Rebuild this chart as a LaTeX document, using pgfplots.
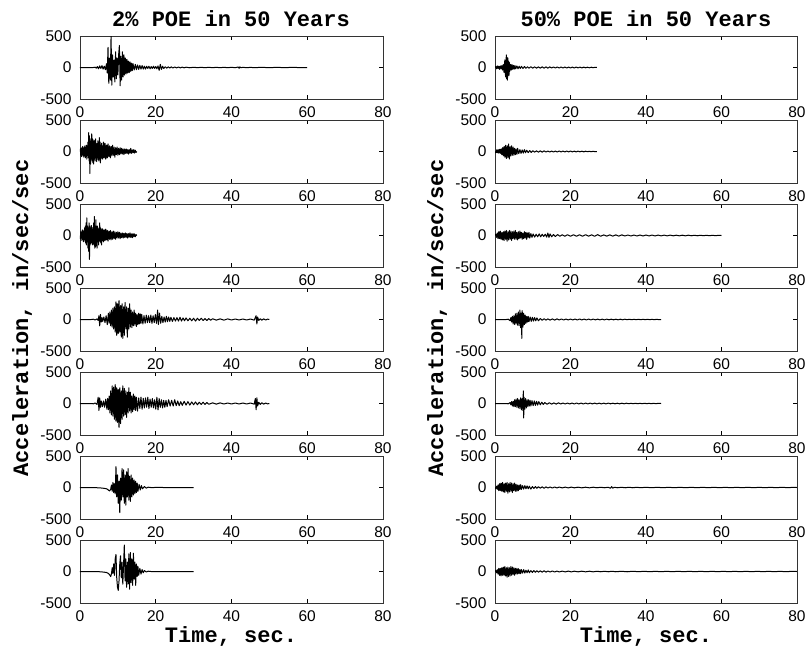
\documentclass[border=0pt]{standalone}
\usepackage{fontspec}
\setmainfont{Liberation Sans}
\newfontfamily\cour{Liberation Mono}
\usepackage{pgfplots}
\pgfplotsset{compat=1.18}
\pgfplotsset{seis/.style={
  scale only axis, width=303pt, height=63pt, anchor=north west,
  xmin=0, xmax=80, ymin=-500, ymax=500,
  xtick={0,20,40,60,80}, xticklabels={0,20,40,60,80},
  ytick={-500,0,500}, yticklabels={-500,0,500},
  tick align=inside, major tick length=4pt,
  xtick pos=both, ytick pos=both, xticklabel pos=lower, yticklabel pos=left,
  ticklabel style={font=\fontsize{15.5}{15.5}\selectfont},
  xticklabel style={yshift=-4pt},
  yticklabel style={xshift=-5pt},
  axis line style={black!80, line width=0.7pt},
  every tick/.style={black, line width=0.5pt},
  cycle list={{black, mark=none}},
  every axis plot post/.style={black, line width=1.0pt, line join=round, mark=none},
  clip=true
}}
\begin{document}
\begin{tikzpicture}[x=1pt,y=1pt]
\useasboundingbox (0,0) rectangle (807,-649);
% titles and labels
\node[font=\cour\bfseries\fontsize{22}{22}\selectfont] at (231,-19) {2\% POE in 50 Years};
\node[font=\cour\bfseries\fontsize{22}{22}\selectfont] at (646,-19) {50\% POE in 50 Years};
\node[font=\cour\bfseries\fontsize{22}{22}\selectfont, rotate=90] at (22,-318) {Acceleration, in/sec/sec};
\node[font=\cour\bfseries\fontsize{22}{22}\selectfont, rotate=90] at (437,-318) {Acceleration, in/sec/sec};
\node[font=\cour\bfseries\fontsize{22}{22}\selectfont] at (231,-636) {Time, sec.};
\node[font=\cour\bfseries\fontsize{22}{22}\selectfont] at (646,-636) {Time, sec.};

% ---------------- LEFT COLUMN: 2% POE ----------------
\begin{axis}[seis, at={(80pt,-36pt)}]
\addplot coordinates {(0,0)(3.5,0)(4,5)(4.3,-10)(4.6,15)(4.9,-20)(5.2,25)(5.5,-15)(5.8,30)(6.1,-25)(6.4,20)(6.7,-35)(7.0,60)(7.2,-90)(7.4,320)(7.6,-250)(7.8,150)(8.0,-200)(8.2,500)(8.4,-280)(8.6,200)(8.8,-150)(9.0,120)(9.2,-230)(9.4,250)(9.6,-180)(9.8,150)(10.0,-120)(10.2,200)(10.4,350)(10.6,-290)(10.8,180)(11.0,-200)(11.2,250)(11.4,-150)(11.6,200)(11.8,-120)(12.0,150)(12.2,-100)(12.4,130)(12.6,-90)(12.8,100)(13.0,-80)(13.2,90)(13.4,-60)(13.6,70)(13.8,-50)(14.0,60)(14.3,-40)(14.6,50)(14.9,-35)(15.2,40)(15.5,-30)(15.8,35)(16.1,-25)(16.4,30)(16.7,-25)(17.0,20)(17.3,-25)(17.6,20)(17.9,-15)(18.2,20)(18.5,-20)(18.8,15)(19.1,-15)(19.4,20)(19.7,-15)(20.0,15)(20.3,-20)(20.6,25)(20.9,-45)(21.2,50)(21.5,-30)(21.8,20)(22.1,-15)(22.5,12)(22.9,-10)(23.3,10)(23.7,-8)(24.1,10)(24.5,-8)(25,8)(25.5,-6)(26,7)(26.5,-6)(27,6)(27.5,-5)(28,5)(29,-4)(30,4)(31,-3)(32,3)(33,-3)(34,3)(35,-3)(36,3)(37,-3)(38,3)(39,-3)(40,3)(41,-3)(41.8,8)(42,-12)(42.2,10)(42.5,-4)(43,3)(44,-3)(45,2)(46,-2)(48,2)(50,-2)(52,2)(54,-2)(56,2)(58,-1)(60,0)};
\end{axis}

\begin{axis}[seis, at={(80pt,-120pt)}]
\addplot coordinates {(0,0)(0.1,40)(0.2,-60)(0.3,50)(0.4,-80)(0.5,60)(0.6,-40)(0.7,80)(0.8,-70)(0.9,50)(1.0,-90)(1.1,70)(1.2,-50)(1.3,90)(1.4,-100)(1.5,60)(1.6,-80)(1.7,100)(1.8,-120)(1.9,90)(2.0,-60)(2.1,150)(2.2,-100)(2.3,300)(2.4,-150)(2.5,250)(2.6,-350)(2.7,200)(2.8,-200)(2.9,150)(3.0,-120)(3.1,280)(3.2,-150)(3.3,200)(3.4,-180)(3.5,150)(3.6,-200)(3.7,180)(3.8,-120)(3.9,150)(4.0,-150)(4.1,200)(4.2,-100)(4.3,130)(4.4,-160)(4.5,120)(4.6,-100)(4.7,170)(4.8,-130)(4.9,100)(5.0,-150)(5.1,220)(5.2,-120)(5.3,150)(5.4,-180)(5.5,100)(5.6,-90)(5.7,130)(5.8,-110)(5.9,90)(6.0,-120)(6.2,150)(6.4,-100)(6.6,130)(6.8,-120)(7.0,100)(7.2,-100)(7.4,120)(7.6,-80)(7.8,90)(8.0,-100)(8.2,80)(8.4,-70)(8.6,100)(8.8,-60)(9.0,70)(9.2,-90)(9.4,60)(9.6,-50)(9.8,70)(10.0,-60)(10.2,50)(10.4,-50)(10.6,60)(10.8,-40)(11.0,50)(11.2,-40)(11.4,40)(11.6,-50)(11.8,40)(12.0,-30)(12.2,40)(12.4,-30)(12.6,30)(12.8,-40)(13.0,30)(13.2,-25)(13.4,50)(13.6,-30)(13.8,25)(14.0,-20)(14.2,30)(14.4,-25)(14.6,20)(14.8,-15)(15.0,0)};
\end{axis}

\begin{axis}[seis, at={(80pt,-204pt)}]
\addplot coordinates {(0,0)(0.1,-50)(0.2,60)(0.3,-80)(0.4,50)(0.5,-40)(0.6,90)(0.7,-70)(0.8,60)(0.9,-100)(1.0,80)(1.1,-60)(1.2,120)(1.3,-90)(1.4,150)(1.5,-120)(1.6,200)(1.7,-150)(1.8,280)(1.9,-100)(2.0,150)(2.1,-200)(2.2,120)(2.3,-250)(2.4,200)(2.5,-380)(2.6,150)(2.7,-150)(2.8,120)(2.9,-100)(3.0,160)(3.1,-120)(3.2,100)(3.3,-150)(3.4,130)(3.5,-100)(3.6,200)(3.7,-150)(3.8,300)(3.9,-200)(4.0,150)(4.1,-180)(4.2,250)(4.3,-120)(4.4,100)(4.5,-200)(4.6,150)(4.7,-100)(4.8,120)(4.9,-150)(5.0,100)(5.1,-80)(5.2,200)(5.3,-100)(5.4,120)(5.5,-120)(5.6,90)(5.7,-150)(5.8,110)(5.9,-80)(6.0,100)(6.2,-100)(6.4,90)(6.6,-80)(6.8,100)(7.0,-70)(7.2,80)(7.4,-90)(7.6,70)(7.8,-60)(8.0,80)(8.2,-70)(8.4,60)(8.6,-60)(8.8,70)(9.0,-50)(9.2,60)(9.4,-60)(9.6,50)(9.8,-40)(10.0,60)(10.2,-40)(10.4,50)(10.6,-50)(10.8,40)(11.0,-35)(11.2,40)(11.4,-40)(11.6,35)(11.8,-30)(12.0,40)(12.2,-30)(12.4,30)(12.6,-40)(12.8,30)(13.0,-25)(13.2,40)(13.4,-30)(13.6,25)(13.8,-35)(14.0,30)(14.2,-20)(14.4,25)(14.6,-20)(14.8,15)(15.0,0)};
\end{axis}

\begin{axis}[seis, at={(80pt,-288pt)}]
\addplot coordinates {(0,0)(3,0)(3.5,5)(4,-8)(4.5,10)(4.8,-15)(5.0,60)(5.2,-100)(5.4,80)(5.6,-40)(5.8,30)(6.0,-30)(6.3,40)(6.6,-50)(6.9,60)(7.2,-80)(7.5,100)(7.7,-60)(7.9,120)(8.1,-100)(8.3,150)(8.5,-120)(8.7,180)(8.9,-150)(9.1,200)(9.3,-200)(9.5,280)(9.7,-250)(9.9,250)(10.1,-220)(10.3,300)(10.5,-200)(10.7,220)(10.9,-280)(11.1,250)(11.3,-300)(11.5,200)(11.7,-250)(11.9,270)(12.1,-150)(12.3,200)(12.5,-280)(12.7,180)(12.9,-150)(13.1,250)(13.3,-120)(13.5,150)(13.7,-130)(13.9,120)(14.1,-100)(14.3,150)(14.5,-90)(14.7,100)(14.9,-110)(15.1,80)(15.3,-80)(15.5,100)(15.7,-70)(15.9,90)(16.1,-60)(16.3,80)(16.6,-70)(16.9,60)(17.2,-60)(17.5,70)(17.8,-50)(18.1,60)(18.4,-50)(18.7,70)(19.0,-60)(19.3,60)(19.6,-50)(19.9,80)(20.2,-60)(20.5,150)(20.7,-80)(21.0,100)(21.3,-60)(21.6,50)(21.9,-50)(22.2,40)(22.5,-40)(22.8,50)(23.1,-35)(23.4,40)(23.7,-30)(24,35)(24.4,-30)(24.8,30)(25.2,-25)(25.6,30)(26,-25)(26.4,35)(26.8,-25)(27.2,25)(27.6,-20)(28,25)(28.5,-20)(29,20)(29.5,-20)(30,20)(30.5,-25)(31,20)(31.5,-15)(32,20)(32.5,-15)(33,15)(33.5,-15)(34,15)(34.5,-12)(35,12)(36,-10)(37,10)(38,-10)(39,10)(40,-8)(41,8)(42,-8)(43,8)(44,-8)(45,8)(46,-10)(46.5,60)(46.7,-70)(46.9,40)(47.2,-15)(47.6,12)(48,-10)(48.5,10)(49,-8)(49.5,6)(50,0)};
\end{axis}

\begin{axis}[seis, at={(80pt,-372pt)}]
\addplot coordinates {(0,0)(3,0)(3.5,-5)(4,8)(4.5,-15)(4.8,100)(5.0,-110)(5.2,90)(5.4,-60)(5.6,40)(5.9,-50)(6.2,40)(6.5,-60)(6.8,70)(7.1,-90)(7.3,80)(7.5,-100)(7.7,120)(7.9,-150)(8.1,200)(8.3,-180)(8.5,280)(8.7,-200)(8.9,260)(9.1,-250)(9.3,300)(9.5,-280)(9.7,250)(9.9,-300)(10.1,220)(10.3,-380)(10.5,250)(10.7,-320)(10.9,200)(11.1,-250)(11.3,280)(11.5,-200)(11.7,240)(11.9,-180)(12.1,200)(12.3,-220)(12.5,180)(12.7,-150)(12.9,250)(13.1,-120)(13.3,180)(13.5,-150)(13.7,120)(13.9,-130)(14.1,150)(14.3,-100)(14.5,120)(14.7,-110)(14.9,100)(15.2,-120)(15.5,90)(15.8,-80)(16.1,100)(16.4,-90)(16.7,80)(17,-70)(17.3,90)(17.6,-60)(17.9,100)(18.2,-80)(18.5,70)(18.8,-60)(19.1,80)(19.4,-70)(19.7,60)(20.0,-90)(20.3,100)(20.6,-100)(20.9,80)(21.2,-60)(21.5,60)(21.8,-70)(22.1,50)(22.4,-60)(22.7,50)(23,-50)(23.4,60)(23.8,-40)(24.2,50)(24.6,-40)(25,60)(25.4,-35)(25.8,40)(26.2,-35)(26.6,30)(27,-30)(27.5,35)(28,-25)(28.5,30)(29,-25)(29.5,25)(30,-20)(30.5,25)(31,-20)(31.5,20)(32,-15)(32.5,20)(33,-15)(33.5,15)(34,-12)(35,10)(36,-10)(37,10)(38,-8)(39,8)(40,-8)(41,8)(42,-8)(43,8)(44,-8)(45,8)(46,-10)(46.3,80)(46.5,-100)(46.7,90)(46.9,-40)(47.2,20)(47.6,-15)(48,12)(48.5,-10)(49,8)(49.5,-6)(50,0)};
\end{axis}

\begin{axis}[seis, at={(80pt,-456pt)}]
\addplot coordinates {(0,0)(3,0)(5,-5)(6,-10)(7,-20)(7.5,-40)(7.8,-55)(8.1,-30)(8.3,40)(8.5,-60)(8.7,80)(8.9,-80)(9.1,60)(9.3,-100)(9.5,330)(9.7,-150)(9.9,200)(10.1,-250)(10.3,100)(10.5,-400)(10.7,150)(10.9,-200)(11.1,300)(11.3,-150)(11.5,280)(11.7,-250)(11.9,200)(12.1,-280)(12.3,250)(12.5,-150)(12.7,300)(12.9,-200)(13.1,180)(13.3,-220)(13.5,200)(13.7,-150)(13.9,150)(14.1,-120)(14.3,120)(14.5,-100)(14.7,100)(14.9,-80)(15.1,70)(15.3,-60)(15.6,50)(15.9,-40)(16.2,30)(16.5,-20)(17,15)(17.5,-10)(18,5)(19,-3)(20,2)(22,0)(30,0)};
\end{axis}

\begin{axis}[seis, at={(80pt,-540pt)}]
\addplot coordinates {(0,0)(3,0)(5,-3)(6,-8)(7,-15)(7.5,-30)(7.8,-50)(8.1,-80)(8.3,-40)(8.5,60)(8.7,-30)(8.9,120)(9.1,-60)(9.3,200)(9.5,270)(9.7,-100)(9.9,-250)(10.1,-300)(10.3,-150)(10.5,120)(10.7,250)(10.9,-100)(11.1,150)(11.3,-200)(11.5,100)(11.7,420)(11.9,-150)(12.1,200)(12.3,-250)(12.5,150)(12.7,-200)(12.9,280)(13.1,-280)(13.3,300)(13.5,-180)(13.7,200)(13.9,-220)(14.1,290)(14.3,-120)(14.5,150)(14.7,-220)(14.9,120)(15.1,-80)(15.3,80)(15.5,-60)(15.8,50)(16.1,-40)(16.4,30)(16.7,-20)(17,15)(17.5,-8)(18,5)(19,-2)(20,0)(30,0)};
\end{axis}

% ---------------- RIGHT COLUMN: 50% POE ----------------
\begin{axis}[seis, at={(495pt,-36pt)}, width=302pt]
\addplot coordinates {(0,0)(0.2,15)(0.4,-20)(0.6,25)(0.8,-15)(1.0,20)(1.2,-30)(1.4,25)(1.6,-20)(1.8,30)(2.0,-40)(2.2,50)(2.4,-80)(2.6,120)(2.8,-150)(3.0,200)(3.1,-180)(3.2,160)(3.3,-200)(3.4,150)(3.5,-120)(3.6,100)(3.7,-130)(3.8,80)(3.9,-60)(4.1,50)(4.3,-40)(4.5,45)(4.7,-30)(4.9,35)(5.1,-25)(5.3,30)(5.5,-20)(5.8,25)(6.1,-20)(6.4,20)(6.7,-15)(7.0,18)(7.4,-15)(7.8,15)(8.2,-12)(8.6,12)(9.0,-10)(9.5,12)(10,-10)(10.5,10)(11,-10)(11.5,10)(12,-10)(12.5,10)(13,-10)(13.5,10)(14,-10)(14.5,10)(15,-8)(15.5,8)(16,-8)(16.5,8)(17,-8)(17.5,8)(18,-8)(18.5,8)(19,-8)(19.5,8)(20,-7)(20.5,7)(21,-7)(21.5,7)(22,-6)(22.5,6)(23,-6)(23.5,6)(24,-5)(24.5,5)(25,-5)(25.5,5)(26,-4)(26.5,4)(27,0)};
\end{axis}

\begin{axis}[seis, at={(495pt,-120pt)}, width=302pt]
\addplot coordinates {(0,0)(0.2,-20)(0.4,25)(0.6,-20)(0.8,30)(1.0,-25)(1.2,35)(1.4,-30)(1.6,40)(1.8,-50)(2.0,60)(2.2,-70)(2.4,80)(2.6,-90)(2.8,100)(3.0,-110)(3.2,90)(3.4,-100)(3.6,120)(3.8,-120)(4.0,80)(4.2,-70)(4.4,90)(4.6,-60)(4.8,70)(5.0,-60)(5.2,50)(5.4,-50)(5.6,40)(5.8,-45)(6.0,50)(6.3,-35)(6.6,30)(6.9,-30)(7.2,25)(7.5,-25)(7.8,30)(8.1,-20)(8.4,20)(8.8,-18)(9.2,15)(9.6,-15)(10,12)(10.5,-10)(11,10)(11.5,-10)(12,10)(12.5,-10)(13,10)(13.5,-8)(14,8)(14.5,-8)(15,8)(15.5,-8)(16,8)(16.5,-8)(17,8)(17.5,-7)(18,7)(18.5,-7)(19,7)(19.5,-7)(20,7)(20.5,-6)(21,6)(21.5,-6)(22,6)(22.5,-5)(23,5)(23.5,-5)(24,5)(24.5,-4)(25,4)(25.5,-4)(26,4)(26.5,-3)(27,0)};
\end{axis}

\begin{axis}[seis, at={(495pt,-204pt)}, width=302pt]
\addplot coordinates {(0,0)(0.2,20)(0.4,-30)(0.6,40)(0.8,-50)(1.0,60)(1.2,-50)(1.4,70)(1.6,-60)(1.8,50)(2.0,-70)(2.2,60)(2.4,-80)(2.6,70)(2.8,-60)(3.0,80)(3.2,-90)(3.4,60)(3.6,-70)(3.8,80)(4.0,-60)(4.2,70)(4.4,-80)(4.6,60)(4.8,-50)(5.0,70)(5.2,-60)(5.4,80)(5.6,-60)(5.8,50)(6.0,-70)(6.2,60)(6.4,-50)(6.6,70)(6.8,-40)(7.0,50)(7.2,-60)(7.4,40)(7.6,-50)(7.8,60)(8.0,-40)(8.2,50)(8.4,-60)(8.6,40)(8.8,-30)(9.0,50)(9.2,-40)(9.5,30)(9.8,-30)(10.1,25)(10.5,-25)(10.9,20)(11.3,-20)(11.7,25)(12.1,-20)(12.5,20)(12.9,-15)(13.3,20)(13.7,-25)(14.0,40)(14.3,-30)(14.6,25)(15.0,-20)(15.5,15)(16,-15)(16.6,15)(17.2,-12)(17.8,12)(18.5,-12)(19.2,12)(20,-12)(20.8,12)(21.6,-12)(22.4,12)(23.2,-12)(24,12)(24.8,-10)(25.6,10)(26.4,-12)(27.2,14)(28,-12)(28.8,10)(29.6,-10)(30.4,10)(31.2,-10)(32,10)(32.8,-10)(33.6,10)(34.4,-8)(35.2,8)(36,-8)(36.8,8)(37.6,-8)(38.4,8)(39.2,-8)(40,8)(40.8,-7)(41.6,7)(42.4,-7)(43.2,7)(44,-6)(44.8,6)(45.6,-6)(46.4,6)(47.2,-5)(48,5)(48.8,-5)(49.6,5)(50.4,-5)(51.2,5)(52,-4)(52.8,4)(53.6,-4)(54.4,4)(55.2,-3)(56,3)(56.8,-3)(57.6,3)(58.4,-2)(59.2,2)(60,0)};
\end{axis}

\begin{axis}[seis, at={(495pt,-288pt)}, width=302pt]
\addplot coordinates {(0,0)(3,0)(3.5,5)(4.0,-20)(4.2,30)(4.4,-40)(4.6,50)(4.8,-70)(5.0,60)(5.2,-80)(5.4,90)(5.6,-70)(5.8,100)(6.0,-90)(6.2,120)(6.4,-100)(6.6,150)(6.8,-130)(7.0,100)(7.1,-300)(7.2,140)(7.4,-120)(7.6,100)(7.8,-80)(8.0,70)(8.2,-60)(8.4,50)(8.6,-40)(8.8,50)(9.0,-35)(9.3,40)(9.6,-30)(9.9,35)(10.2,-25)(10.5,30)(10.8,-20)(11.1,25)(11.5,-20)(12,15)(12.5,-12)(13,12)(13.5,-10)(14,10)(14.6,-10)(15.2,10)(15.8,-10)(16.4,10)(17,-8)(17.6,8)(18.2,-8)(18.8,8)(19.4,-8)(20,8)(20.6,-8)(21.2,8)(21.8,-8)(22.4,8)(23,-7)(23.6,7)(24.2,-7)(24.8,7)(25.4,-7)(26,7)(26.6,-6)(27.2,6)(27.8,-6)(28.4,6)(29,-6)(29.6,6)(30.2,-5)(30.8,5)(31.4,-5)(32,5)(32.6,-5)(33.2,5)(33.8,-5)(34.4,5)(35,-4)(35.6,4)(36.2,-4)(36.8,4)(37.4,-4)(38,4)(38.6,-4)(39.2,4)(39.8,-3)(40.4,3)(41,-3)(41.6,3)(42.2,-3)(42.8,3)(43.4,-2)(44,0)};
\end{axis}

\begin{axis}[seis, at={(495pt,-372pt)}, width=302pt]
\addplot coordinates {(0,0)(3,0)(3.5,-5)(4.0,15)(4.2,-20)(4.4,30)(4.6,-40)(4.8,35)(5.0,-50)(5.2,60)(5.4,-50)(5.6,70)(5.8,-60)(6.0,80)(6.2,-70)(6.4,60)(6.6,-80)(6.8,90)(7.0,-100)(7.2,80)(7.4,-110)(7.5,200)(7.6,-230)(7.7,100)(7.9,-90)(8.1,80)(8.3,-70)(8.5,60)(8.7,-50)(8.9,60)(9.1,-40)(9.3,50)(9.5,-40)(9.8,45)(10.1,-35)(10.4,40)(10.7,-30)(11,35)(11.3,-25)(11.6,30)(12,-20)(12.4,20)(12.8,-15)(13.2,15)(13.8,-12)(14.4,12)(15,-10)(15.6,10)(16.2,-10)(16.8,10)(17.4,-8)(18,8)(18.6,-8)(19.2,8)(19.8,-8)(20.4,8)(21,-8)(21.6,8)(22.2,-7)(22.8,7)(23.4,-7)(24,7)(24.6,-7)(25.2,7)(25.8,-6)(26.4,6)(27,-6)(27.6,6)(28.2,-6)(28.8,6)(29.4,-6)(30,6)(30.6,-5)(31.2,5)(31.8,-5)(32.4,5)(33,-5)(33.6,5)(34.2,-5)(34.8,5)(35.4,-4)(36,4)(36.6,-4)(37.2,4)(37.8,-4)(38.4,4)(39,-4)(39.6,4)(40.2,-3)(40.8,3)(41.4,-3)(42,3)(42.6,-3)(43.2,2)(44,0)};
\end{axis}

\begin{axis}[seis, at={(495pt,-456pt)}, width=302pt]
\addplot coordinates {(0,0)(0.2,-15)(0.4,20)(0.6,-30)(0.8,40)(1.0,-50)(1.2,60)(1.4,-50)(1.6,70)(1.8,-60)(2.0,80)(2.2,-70)(2.4,60)(2.6,-80)(2.8,70)(3.0,-60)(3.2,80)(3.4,-90)(3.6,60)(3.8,-70)(4.0,80)(4.2,-60)(4.4,70)(4.6,-80)(4.8,60)(5.0,-50)(5.2,70)(5.4,-60)(5.6,50)(5.8,-60)(6.0,40)(6.2,-50)(6.4,40)(6.6,-30)(6.8,45)(7.0,-30)(7.3,30)(7.6,-25)(7.9,30)(8.2,-20)(8.5,25)(8.8,-20)(9.1,20)(9.5,-25)(9.9,15)(10.3,-15)(10.7,15)(11.1,-12)(11.5,12)(12,-10)(12.5,10)(13,-12)(13.5,10)(14,-8)(14.6,8)(15.2,-8)(15.8,8)(16.4,-7)(17,7)(17.8,-6)(18.6,6)(19.4,-6)(20.2,6)(21,-5)(22,5)(23,-5)(24,5)(25,-5)(26,5)(27,-4)(28,4)(29,-4)(30,4)(30.6,-12)(30.9,14)(31.2,-10)(31.6,4)(32.5,-4)(33.5,4)(34.5,-4)(35.5,4)(36.5,-4)(37.5,4)(38.5,-3)(40,3)(41.5,-3)(43,3)(44.5,-3)(46,3)(47.5,-3)(49,3)(50.5,-3)(52,3)(53.5,-3)(55,3)(56.5,-3)(58,3)(59.5,-3)(61,3)(62.5,-3)(64,3)(65.5,-3)(67,3)(68.5,-3)(70,3)(71.5,-3)(73,3)(74.5,-3)(76,3)(77.5,-2)(79,2)(80,0)};
\end{axis}

\begin{axis}[seis, at={(495pt,-540pt)}, width=302pt]
\addplot coordinates {(0,0)(0.2,15)(0.4,-20)(0.6,30)(0.8,-40)(1.0,50)(1.2,-60)(1.4,50)(1.6,-70)(1.8,60)(2.0,-60)(2.2,70)(2.4,-60)(2.6,80)(2.8,-70)(3.0,60)(3.2,-90)(3.4,70)(3.6,-80)(3.8,60)(4.0,-70)(4.2,80)(4.4,-60)(4.6,70)(4.8,-50)(5.0,60)(5.2,-60)(5.4,50)(5.6,-40)(5.8,50)(6.0,-40)(6.2,45)(6.4,-35)(6.6,30)(6.8,-35)(7.0,30)(7.3,-25)(7.6,30)(7.9,-25)(8.2,20)(8.5,-20)(8.8,25)(9.1,-20)(9.5,15)(9.9,-15)(10.3,15)(10.7,-12)(11.1,12)(11.5,-10)(12,10)(12.5,-10)(13,12)(13.5,-10)(14,8)(14.6,-8)(15.2,8)(15.8,-8)(16.4,7)(17,-7)(17.8,6)(18.6,-6)(19.4,6)(20.2,-6)(21,5)(22,-5)(23,5)(24,-5)(25,5)(26,-5)(27,4)(28,-4)(29,4)(30,-4)(31,4)(32,-4)(33.5,4)(35,-4)(36.5,4)(38,-3)(39.5,3)(41,-3)(42.5,3)(44,-3)(45.5,3)(47,-3)(48.5,3)(50,-3)(51.5,3)(53,-3)(54.5,3)(56,-3)(57.5,3)(59,-3)(60.5,3)(62,-3)(63.5,3)(65,-3)(66.5,3)(68,-3)(69.5,3)(71,-3)(72.5,3)(74,-3)(75.5,3)(77,-3)(78.5,2)(80,0)};
\end{axis}
\end{tikzpicture}
\end{document}
